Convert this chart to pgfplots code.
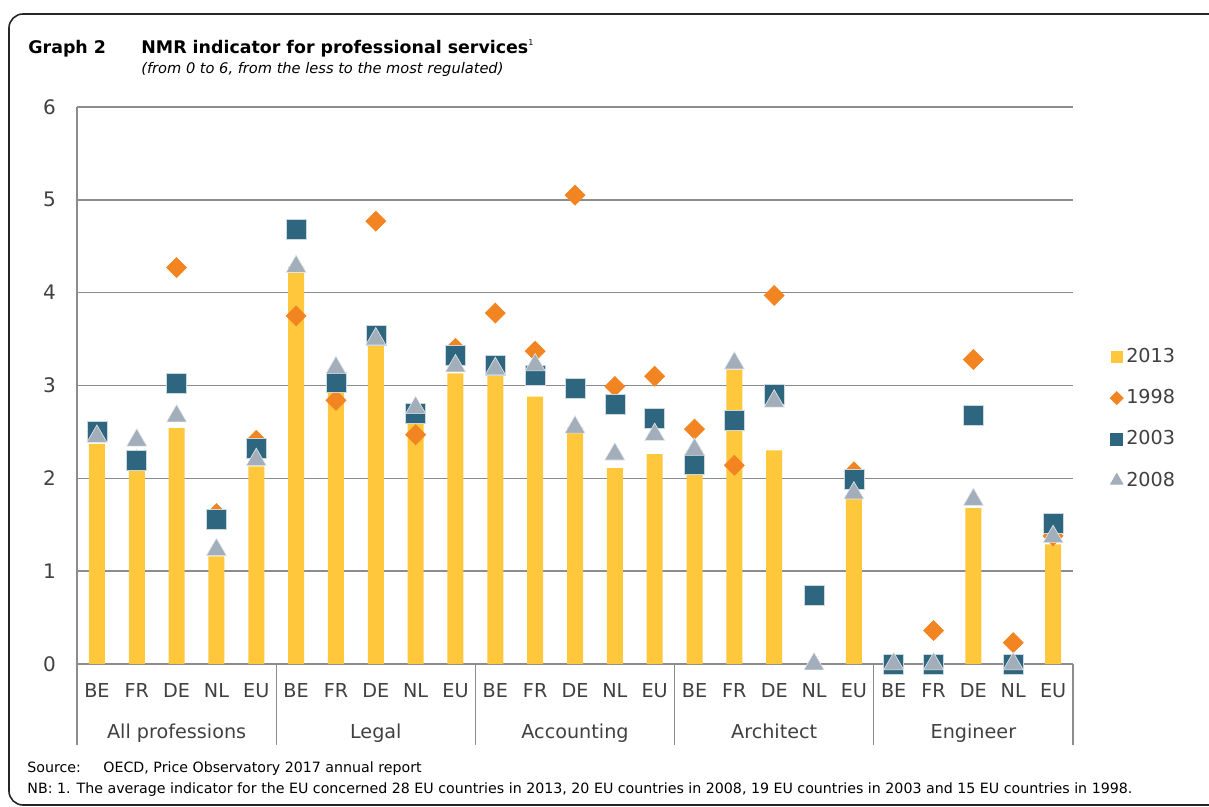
\documentclass[border=0pt]{standalone}
\usepackage{pgfplots}
\pgfplotsset{compat=1.18}
\usepackage{fontspec}
\setmainfont{DejaVu Sans}
\definecolor{cbar}{HTML}{FEC73C}
\definecolor{cdia}{HTML}{F28522}
\definecolor{csq}{HTML}{2E667F}
\definecolor{ctri}{HTML}{A3AEBB}
\definecolor{cgrid}{HTML}{8C8C8C}
\definecolor{ctxt}{HTML}{404040}
\begin{document}
\begin{tikzpicture}
\begin{scope}[x=0.5pt,y=-0.5pt]
\draw[line width=0.8pt, black!85, rounded corners=7pt] (9,805) -- (9,14) -- (1225,14) -- (1225,805) -- cycle;
\node[anchor=base west, inner sep=0pt, font=\fontsize{8.7}{11}\selectfont\bfseries] at (28,54) {Graph 2};
\node[anchor=base west, inner sep=0pt, font=\fontsize{8.7}{11}\selectfont\bfseries] at (141,54) {NMR indicator for professional services\raisebox{0.9ex}{\fontsize{4}{5}\selectfont\mdseries 1}};
\node[anchor=base west, inner sep=0pt, font=\fontsize{7.3}{9}\selectfont\itshape] at (141,74) {(from 0 to 6, from the less to the most regulated)};
\node[anchor=base west, inner sep=0pt, font=\fontsize{7.1}{8}\selectfont] at (27,772) {Source:};
\node[anchor=base west, inner sep=0pt, font=\fontsize{7.1}{8}\selectfont] at (103,772) {OECD, Price Observatory 2017 annual report};
\node[anchor=base west, inner sep=0pt, font=\fontsize{7.1}{8}\selectfont] at (27,793) {NB: 1. The average indicator for the EU concerned 28 EU countries in 2013, 20 EU countries in 2008, 19 EU countries in 2003 and 15 EU countries in 1998.};
\end{scope}
\begin{axis}[
  at={(38.5pt,-332pt)}, anchor=south west,
  scale only axis, width=498pt, height=278.5pt,
  xmin=-0.5, xmax=24.5, ymin=0, ymax=6,
  ytick={0,1,2,3,4,5,6},
  xtick={0,...,24},
  xticklabels={BE,FR,DE,NL,EU,BE,FR,DE,NL,EU,BE,FR,DE,NL,EU,BE,FR,DE,NL,EU,BE,FR,DE,NL,EU},
  major tick length=0pt,
  ymajorgrids, grid style={cgrid, line width=0.75pt},
  axis x line*=bottom, axis y line*=left,
  x axis line style={cgrid, line width=1pt, -},
  y axis line style={cgrid, line width=0.75pt, -},
  /pgf/number format/assume math mode=true,
  tick label style={font=\fontsize{9.6}{12}\selectfont, text=ctxt},
  yticklabel style={font=\fontsize{10}{12}\selectfont, xshift=-7pt},
  xticklabel style={yshift=-6pt},
  clip=false,
  legend style={at={(axis description cs:1.037,0.573)}, anchor=north west, draw=none, fill=none,
    font=\fontsize{9.6}{12}\selectfont, text=ctxt, row sep=9pt, inner sep=0pt,
    nodes={inner sep=1.5pt}},
  legend cell align=left,
]
\addplot[ybar, bar width=8pt, bar shift=0pt, fill=cbar, draw=none,
  legend image code/.code={\fill[cbar] (0pt,-3pt) rectangle (6pt,3pt);}]
coordinates {(0,2.37) (1,2.28) (2,2.54) (3,1.16) (4,2.13)
 (5,4.28) (6,3.10) (7,3.44) (8,2.60) (9,3.13)
 (10,3.15) (11,2.88) (12,2.55) (13,2.11) (14,2.26)
 (15,2.30) (16,3.17) (17,2.30) (18,0) (19,1.78)
 (20,0) (21,0) (22,1.68) (23,0) (24,1.29)};
\addlegendentry{2013}
\addplot[only marks, mark=square*, mark size=3.5pt, mark options={rotate=45, fill=cdia, draw=cdia},
  legend image code/.code={\draw[mark=square*, mark size=2.3pt, mark options={rotate=45, fill=cdia, draw=cdia}] plot coordinates {(3pt,0pt)};}]
coordinates {(0,2.50) (1,2.20) (2,4.27) (3,1.62) (4,2.41)
 (5,3.75) (6,2.84) (7,4.77) (8,2.47) (9,3.40)
 (10,3.78) (11,3.37) (12,5.05) (13,2.99) (14,3.10)
 (15,2.53) (16,2.14) (17,3.97) (19,2.07)
 (21,0.36) (22,3.28) (23,0.23) (24,1.38)};
\addlegendentry{1998}
\addplot[only marks, mark=square*, mark size=5pt, mark options={fill=csq, draw=white!75!csq, line width=0.3pt},
  legend image code/.code={\draw[mark=square*, mark size=3pt, mark options={fill=csq, draw=csq}] plot coordinates {(3pt,0pt)};}]
coordinates {(0,2.51) (1,2.19) (2,3.02) (3,1.56) (4,2.32)
 (5,4.68) (6,3.03) (7,3.54) (8,2.70) (9,3.33)
 (10,3.22) (11,3.11) (12,2.97) (13,2.80) (14,2.65)
 (15,2.15) (16,2.62) (17,2.90) (18,0.74) (19,1.99)
 (20,0) (21,0) (22,2.68) (23,0) (24,1.52)};
\addlegendentry{2003}
\addplot[only marks, mark=triangle*, mark size=5.8pt, mark options={fill=ctri, draw=white!70!ctri, line width=0.3pt},
  legend image code/.code={\draw[mark=triangle*, mark size=3.6pt, mark options={fill=ctri, draw=ctri}] plot coordinates {(3pt,0pt)};}]
coordinates {(0,2.45) (1,2.41) (2,2.67) (3,1.23) (4,2.20)
 (5,4.28) (6,3.19) (7,3.50) (8,2.76) (9,3.21)
 (10,3.18) (11,3.22) (12,2.55) (13,2.26) (14,2.47)
 (15,2.31) (16,3.24) (17,2.83) (18,0) (19,1.84)
 (20,0) (21,0) (22,1.77) (23,0) (24,1.37)};
\addlegendentry{2008}
\pgfplotsinvokeforeach{-0.5,4.5,9.5,14.5,19.5,24.5}{
  \draw[cgrid, line width=0.6pt] (axis cs:#1,0) -- ++(0pt,-40.5pt);
}
\node[anchor=base, font=\fontsize{9.6}{12}\selectfont, text=ctxt] at ([yshift=-37pt]axis cs:2,0) {All professions};
\node[anchor=base, font=\fontsize{9.6}{12}\selectfont, text=ctxt] at ([yshift=-37pt]axis cs:7,0) {Legal};
\node[anchor=base, font=\fontsize{9.6}{12}\selectfont, text=ctxt] at ([yshift=-37pt]axis cs:12,0) {Accounting};
\node[anchor=base, font=\fontsize{9.6}{12}\selectfont, text=ctxt] at ([yshift=-37pt]axis cs:17,0) {Architect};
\node[anchor=base, font=\fontsize{9.6}{12}\selectfont, text=ctxt] at ([yshift=-37pt]axis cs:22,0) {Engineer};
\end{axis}
\pgfresetboundingbox
\useasboundingbox (0,0) rectangle (604.5pt,-403.5pt);
\end{tikzpicture}
\end{document}
